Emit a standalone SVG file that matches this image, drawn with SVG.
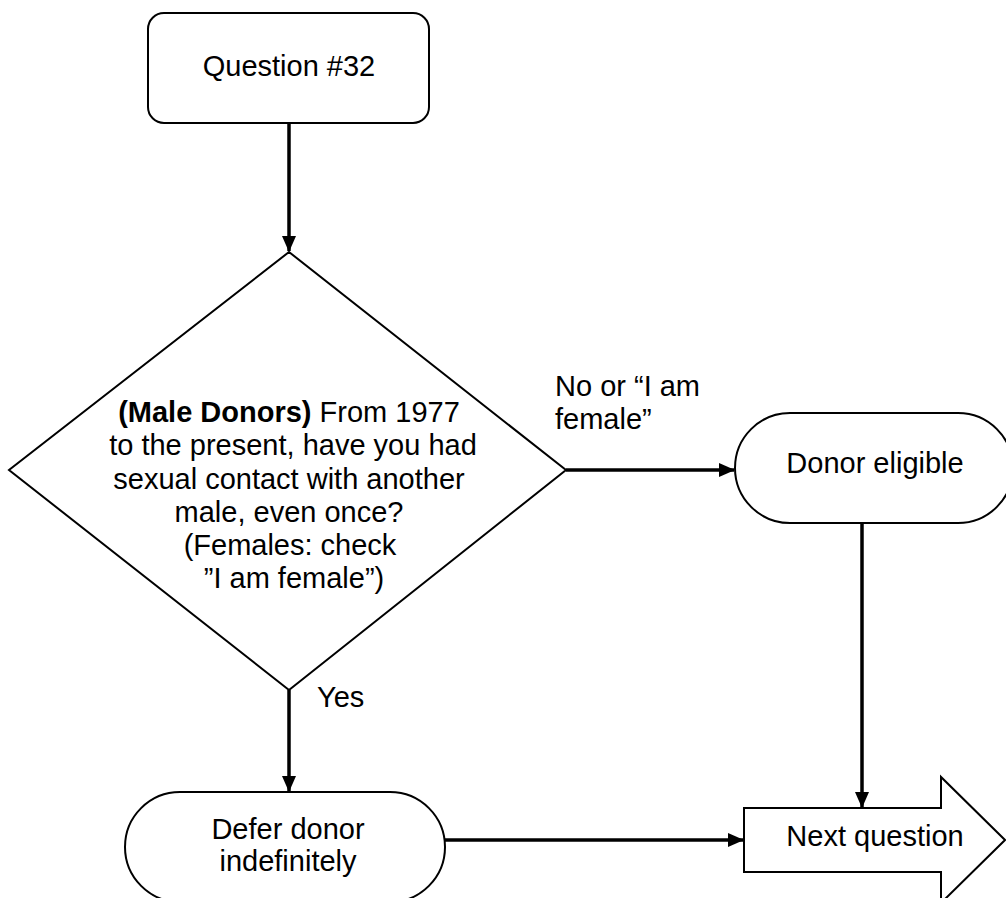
<svg xmlns="http://www.w3.org/2000/svg" width="1006" height="898" viewBox="0 0 1006 898">
<style>
.shape{fill:#fff;stroke:#000;stroke-width:2}
.conn{fill:none;stroke:#000;stroke-width:3.5}
text{font-family:"Liberation Sans",Arial,sans-serif;font-size:29px;fill:#000}
.c{text-anchor:middle}
</style>
<defs>
<marker id="ah" markerUnits="userSpaceOnUse" markerWidth="16" markerHeight="14" refX="15" refY="7" orient="auto">
<path d="M0,0 L16,7 L0,14 Z" fill="#000"/>
</marker>
</defs>
<rect width="1006" height="898" fill="#fff"/>
<g id="connectors">
<line class="conn" x1="289" y1="123" x2="289" y2="251" marker-end="url(#ah)"/>
<line class="conn" x1="566" y1="470" x2="734" y2="470" marker-end="url(#ah)"/>
<line class="conn" x1="862" y1="523" x2="862" y2="807" marker-end="url(#ah)"/>
<line class="conn" x1="289" y1="690" x2="289" y2="791" marker-end="url(#ah)"/>
<line class="conn" x1="445" y1="840" x2="743" y2="840" marker-end="url(#ah)"/>
<text x="555" y="396">No or “I am</text>
<text x="555" y="429">female”</text>
<text x="317" y="707">Yes</text>
</g>
<g id="q32">
<rect class="shape" x="148" y="13" width="281" height="110" rx="16"/>
<text class="c" x="289" y="76">Question #32</text>
</g>
<g id="decision">
<polygon class="shape" points="289,252 566,470 289,690 9,470"/>
<text class="c" x="289" y="422"><tspan font-weight="bold">(Male Donors)</tspan> From 1977</text>
<text class="c" x="293" y="455">to the present, have you had</text>
<text class="c" x="289" y="489">sexual contact with another</text>
<text class="c" x="289" y="522">male, even once?</text>
<text class="c" x="290" y="555">(Females: check</text>
<text class="c" x="294" y="588">”I am female”)</text>
</g>
<g id="eligible">
<rect class="shape" x="735" y="413" width="278" height="110" rx="55"/>
<text class="c" x="875" y="473">Donor eligible</text>
</g>
<g id="defer">
<rect class="shape" x="125" y="792" width="320" height="110" rx="55"/>
<text class="c" x="288" y="839">Defer donor</text>
<text class="c" x="288" y="871">indefinitely</text>
</g>
<g id="next">
<polygon class="shape" points="744,808 941,808 941,777 1005,840 941,903 941,872 744,872"/>
<text class="c" x="875" y="846">Next question</text>
</g>
</svg>
